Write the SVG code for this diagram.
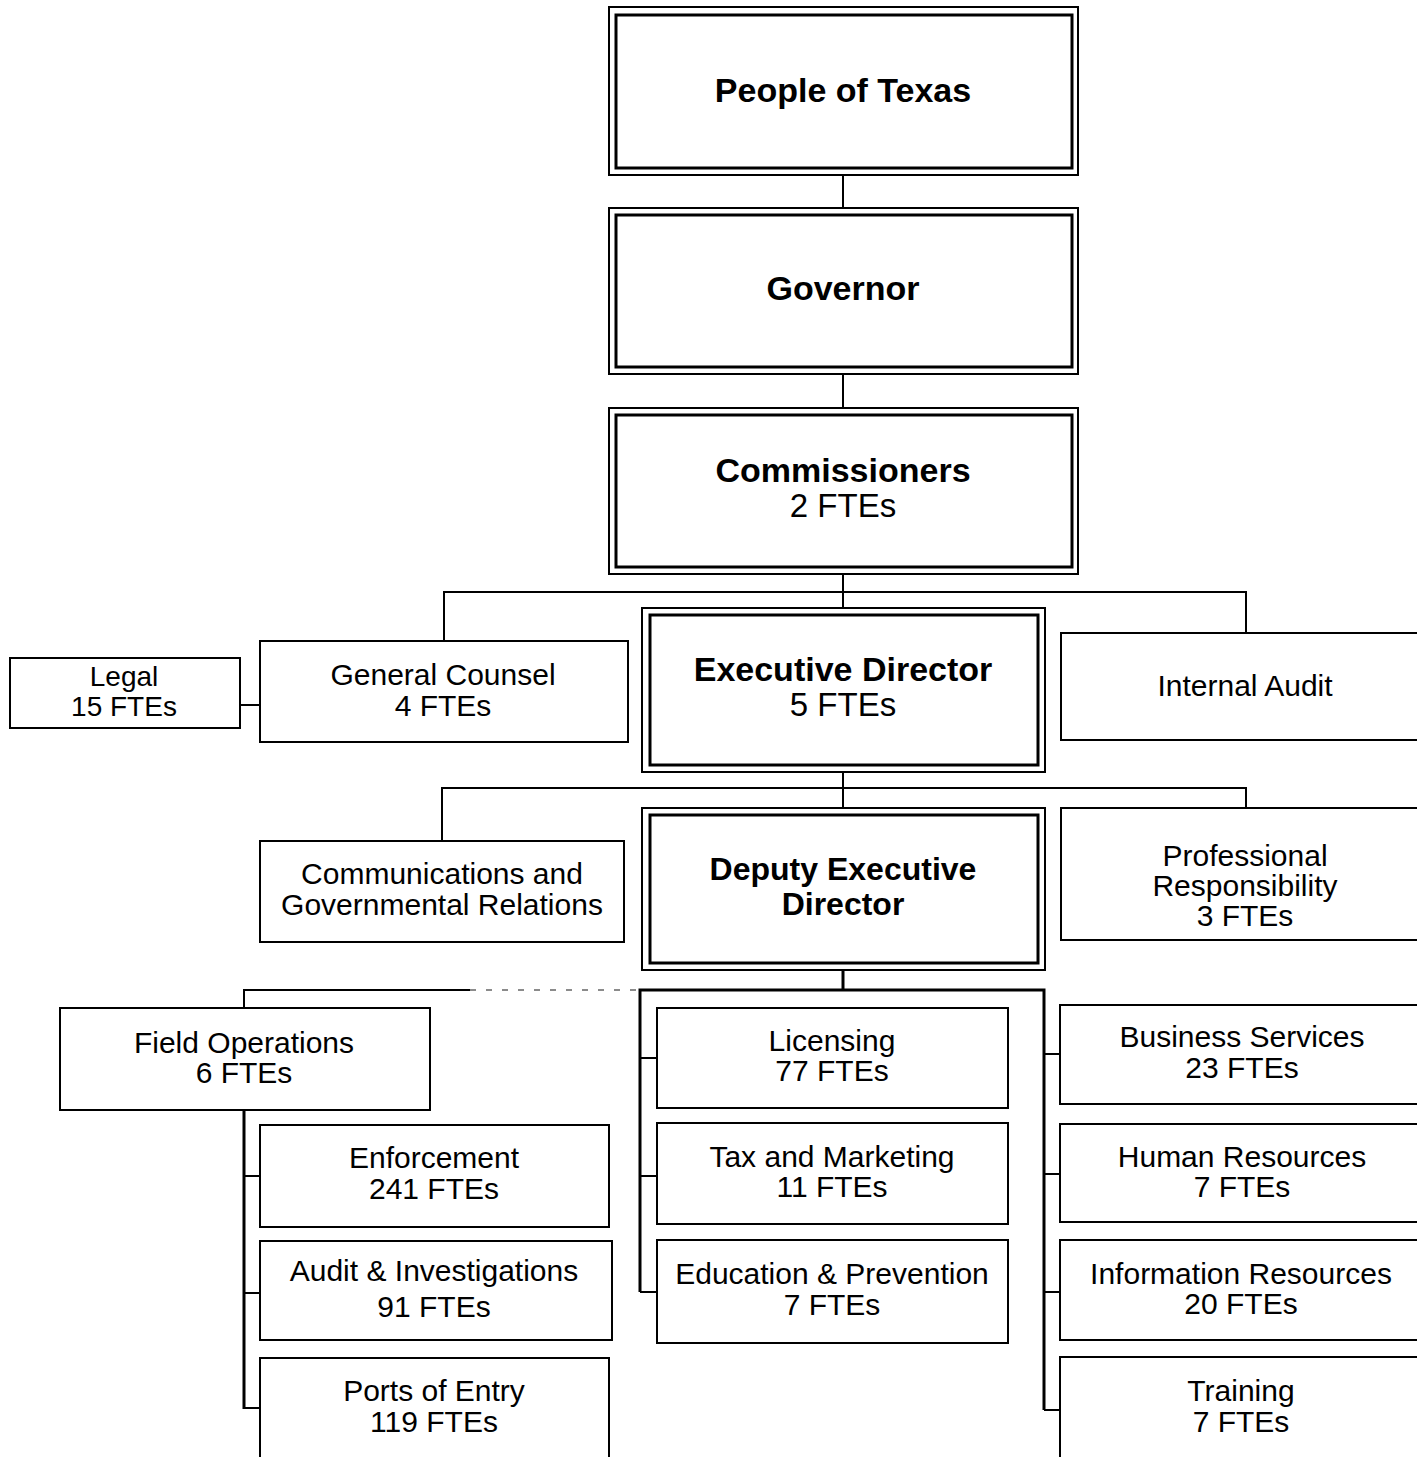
<svg xmlns="http://www.w3.org/2000/svg" width="1417" height="1457" viewBox="0 0 1417 1457">
<style>
.bg{fill:#fff}
.box{fill:#fff;stroke:#000;stroke-width:2}
.outer{fill:#fff;stroke:#000;stroke-width:2}
.inner{fill:none;stroke:#000;stroke-width:3}
.c{fill:none;stroke:#000;stroke-width:2}
.ct{fill:none;stroke:#000;stroke-width:3}
.faint{fill:none;stroke:#666;stroke-width:1.5;stroke-dasharray:6 10}
text{font-family:"Liberation Sans",Arial,sans-serif;text-anchor:middle;fill:#000}
.b{font-weight:bold;font-size:34px}
.bd{font-weight:bold;font-size:32px}
.r{font-size:30px}
.rl{font-size:28px}
.r2{font-size:33px}
</style>
<rect class="bg" x="0" y="0" width="1417" height="1457"/>

<g id="connectors">
  <line class="c" x1="843" y1="175" x2="843" y2="208"/>
  <line class="c" x1="843" y1="374" x2="843" y2="408"/>
  <line class="c" x1="843" y1="574" x2="843" y2="608"/>
  <polyline class="c" points="444,641 444,592 1246,592 1246,633"/>
  <line class="c" x1="240" y1="705" x2="260" y2="705"/>
  <line class="c" x1="843" y1="772" x2="843" y2="808"/>
  <polyline class="c" points="442,841 442,788 1246,788 1246,808"/>
  <line class="ct" x1="843" y1="970" x2="843" y2="990"/>
  <polyline class="ct" points="640,1292 640,990 1044,990 1044,1410"/>
  <polyline class="c" points="244,1008 244,990 470,990"/>
  <line class="faint" x1="470" y1="990" x2="640" y2="990"/>
  <line class="ct" x1="244" y1="1110" x2="244" y2="1409"/>
  <line class="c" x1="244" y1="1176" x2="260" y2="1176"/>
  <line class="c" x1="244" y1="1293" x2="260" y2="1293"/>
  <line class="c" x1="244" y1="1408" x2="260" y2="1408"/>
  <line class="c" x1="640" y1="1058" x2="657" y2="1058"/>
  <line class="c" x1="640" y1="1176" x2="657" y2="1176"/>
  <line class="c" x1="640" y1="1292" x2="657" y2="1292"/>
  <line class="c" x1="1044" y1="1054" x2="1060" y2="1054"/>
  <line class="c" x1="1044" y1="1174" x2="1060" y2="1174"/>
  <line class="c" x1="1044" y1="1292" x2="1060" y2="1292"/>
  <line class="c" x1="1044" y1="1410" x2="1060" y2="1410"/>
</g>

<g id="people">
  <rect class="outer" x="609" y="7" width="469" height="168"/>
  <rect class="inner" x="616" y="15" width="456" height="153"/>
  <text class="b" x="843" y="102">People of Texas</text>
</g>
<g id="governor">
  <rect class="outer" x="609" y="208" width="469" height="166"/>
  <rect class="inner" x="616" y="215" width="456" height="152"/>
  <text class="b" x="843" y="300">Governor</text>
</g>
<g id="commissioners">
  <rect class="outer" x="609" y="408" width="469" height="166"/>
  <rect class="inner" x="616" y="415" width="456" height="152"/>
  <text class="b" x="843" y="482">Commissioners</text>
  <text class="r2" x="843" y="517">2 FTEs</text>
</g>
<g id="legal">
  <rect class="box" x="10" y="658" width="230" height="70"/>
  <text class="rl" x="124" y="686">Legal</text>
  <text class="rl" x="124" y="716">15 FTEs</text>
</g>
<g id="general-counsel">
  <rect class="box" x="260" y="641" width="368" height="101"/>
  <text class="r" x="443" y="685">General Counsel</text>
  <text class="r" x="443" y="716">4 FTEs</text>
</g>
<g id="executive-director">
  <rect class="outer" x="642" y="608" width="403" height="164"/>
  <rect class="inner" x="650" y="615" width="388" height="150"/>
  <text class="b" x="843" y="681">Executive Director</text>
  <text class="r2" x="843" y="716">5 FTEs</text>
</g>
<g id="internal-audit">
  <rect class="box" x="1061" y="633" width="370" height="107"/>
  <text class="r" x="1245" y="696">Internal Audit</text>
</g>
<g id="communications">
  <rect class="box" x="260" y="841" width="364" height="101"/>
  <text class="r" x="442" y="884">Communications and</text>
  <text class="r" x="442" y="915">Governmental Relations</text>
</g>
<g id="deputy-executive-director">
  <rect class="outer" x="642" y="808" width="403" height="162"/>
  <rect class="inner" x="650" y="815" width="388" height="148"/>
  <text class="bd" x="843" y="880">Deputy Executive</text>
  <text class="bd" x="843" y="915">Director</text>
</g>
<g id="professional-responsibility">
  <rect class="box" x="1061" y="808" width="370" height="132"/>
  <text class="r" x="1245" y="866">Professional</text>
  <text class="r" x="1245" y="896">Responsibility</text>
  <text class="r" x="1245" y="926">3 FTEs</text>
</g>
<g id="field-operations">
  <rect class="box" x="60" y="1008" width="370" height="102"/>
  <text class="r" x="244" y="1053">Field Operations</text>
  <text class="r" x="244" y="1083">6 FTEs</text>
</g>
<g id="enforcement">
  <rect class="box" x="260" y="1125" width="349" height="102"/>
  <text class="r" x="434" y="1168">Enforcement</text>
  <text class="r" x="434" y="1199">241 FTEs</text>
</g>
<g id="audit-investigations">
  <rect class="box" x="260" y="1241" width="352" height="99"/>
  <text class="r" x="434" y="1281">Audit &amp; Investigations</text>
  <text class="r" x="434" y="1317">91 FTEs</text>
</g>
<g id="ports-of-entry">
  <rect class="box" x="260" y="1358" width="349" height="110"/>
  <text class="r" x="434" y="1401">Ports of Entry</text>
  <text class="r" x="434" y="1432">119 FTEs</text>
</g>
<g id="licensing">
  <rect class="box" x="657" y="1008" width="351" height="100"/>
  <text class="r" x="832" y="1051">Licensing</text>
  <text class="r" x="832" y="1081">77 FTEs</text>
</g>
<g id="tax-marketing">
  <rect class="box" x="657" y="1123" width="351" height="101"/>
  <text class="r" x="832" y="1167">Tax and Marketing</text>
  <text class="r" x="832" y="1197">11 FTEs</text>
</g>
<g id="education-prevention">
  <rect class="box" x="657" y="1240" width="351" height="103"/>
  <text class="r" x="832" y="1284">Education &amp; Prevention</text>
  <text class="r" x="832" y="1315">7 FTEs</text>
</g>
<g id="business-services">
  <rect class="box" x="1060" y="1005" width="370" height="99"/>
  <text class="r" x="1242" y="1047">Business Services</text>
  <text class="r" x="1242" y="1078">23 FTEs</text>
</g>
<g id="human-resources">
  <rect class="box" x="1060" y="1124" width="370" height="98"/>
  <text class="r" x="1242" y="1167">Human Resources</text>
  <text class="r" x="1242" y="1197">7 FTEs</text>
</g>
<g id="information-resources">
  <rect class="box" x="1060" y="1240" width="370" height="100"/>
  <text class="r" x="1241" y="1284">Information Resources</text>
  <text class="r" x="1241" y="1314">20 FTEs</text>
</g>
<g id="training">
  <rect class="box" x="1060" y="1357" width="370" height="110"/>
  <text class="r" x="1241" y="1401">Training</text>
  <text class="r" x="1241" y="1432">7 FTEs</text>
</g>
</svg>
